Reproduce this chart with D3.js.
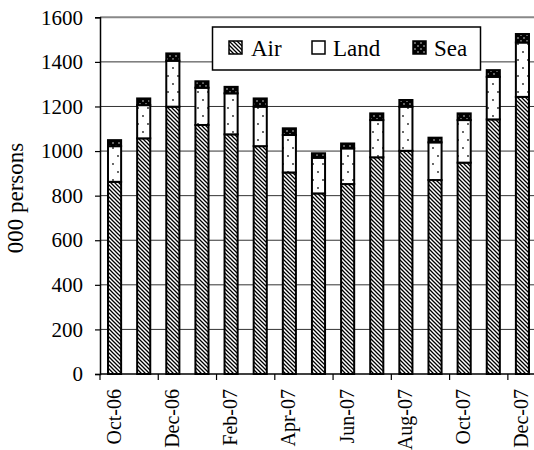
<!DOCTYPE html>
<html>
<head>
<meta charset="utf-8">
<script src="https://cdn.jsdelivr.net/npm/d3@7"></script>
<style>
    body { margin: 0; background: #fff; }
    svg { display: block; font-family: "Liberation Serif", "Times New Roman", serif; }
</style>
</head>
<body>
<div id="chart"></div>
<script>
// Monthly arrivals, 000 persons
const months = ['Oct-06', 'Nov-06', 'Dec-06', 'Jan-07', 'Feb-07', 'Mar-07', 'Apr-07', 'May-07',
    'Jun-07', 'Jul-07', 'Aug-07', 'Sep-07', 'Oct-07', 'Nov-07', 'Dec-07'];
const air = [862, 1057, 1199, 1117, 1075, 1022, 904, 810, 852, 972, 1001, 870, 948, 1142, 1243];
const land = [160, 149, 206, 167, 184, 177, 168, 160, 160, 167, 198, 169, 191, 191, 244];
const sea = [27, 30, 33, 29, 29, 37, 30, 20, 22, 30, 30, 21, 30, 30, 38];
const seriesNames = ['Air', 'Land', 'Sea'];
const yTicks = [0, 200, 400, 600, 800, 1000, 1200, 1400, 1600];

const chartConfig = {
    WIDTH: 534,
    HEIGHT: 450,
    LEFT: 100,
    RIGHT: 537, // plot runs a little past the picture edge
    TOP: 17.3,
    BOTTOM: 374,
};

const svg = d3.select('#chart')
    .append('svg')
    .attr('width', chartConfig.WIDTH)
    .attr('height', chartConfig.HEIGHT);

// fill patterns: hatched air, dotted land, black sea with white dots
const defs = svg.append('defs');

const airPat = defs.append('pattern')
    .attr('id', 'pat-air')
    .attr('patternUnits', 'userSpaceOnUse')
    .attr('width', 4).attr('height', 4);
airPat.append('rect').attr('width', 4).attr('height', 4).attr('fill', '#fff');
airPat.append('path')
    .attr('d', 'M-1,-1 L5,5 M-1,3 L1,5 M3,-1 L5,1')
    .attr('stroke', '#000')
    .attr('stroke-width', 1.3);

const landPat = defs.append('pattern')
    .attr('id', 'pat-land')
    .attr('patternUnits', 'userSpaceOnUse')
    .attr('width', 10).attr('height', 16);
landPat.append('rect').attr('width', 10).attr('height', 16).attr('fill', '#fff');
landPat.append('circle').attr('cx', 3).attr('cy', 4).attr('r', 0.9).attr('fill', '#222');
landPat.append('circle').attr('cx', 8).attr('cy', 12).attr('r', 0.9).attr('fill', '#222');

const seaPat = defs.append('pattern')
    .attr('id', 'pat-sea')
    .attr('patternUnits', 'userSpaceOnUse')
    .attr('width', 6).attr('height', 6);
seaPat.append('rect').attr('width', 6).attr('height', 6).attr('fill', '#000');
seaPat.append('circle').attr('cx', 2).attr('cy', 2).attr('r', 0.8).attr('fill', '#ddd');
seaPat.append('circle').attr('cx', 5).attr('cy', 5).attr('r', 0.8).attr('fill', '#ddd');

const fills = {Air: 'url(#pat-air)', Land: '#fff', Sea: 'url(#pat-sea)'};

// scales
const x = d3.scaleBand()
    .domain(months)
    .range([chartConfig.LEFT, chartConfig.RIGHT])
    .paddingInner(0.55)
    .paddingOuter(0.275);

const y = d3.scaleLinear()
    .domain([0, 1600])
    .range([chartConfig.BOTTOM, chartConfig.TOP]);

// gridlines
svg.append('g')
    .selectAll('line')
    .data(yTicks.filter(d => d > 0))
    .join('line')
    .attr('x1', chartConfig.LEFT)
    .attr('x2', chartConfig.RIGHT)
    .attr('y1', d => y(d))
    .attr('y2', d => y(d))
    .attr('stroke', d => d === 1600 ? '#888' : '#333')
    .attr('stroke-width', d => d === 1600 ? 2 : 1);

// stacked bars
const rows = months.map((m, i) => ({month: m, Air: air[i], Land: land[i], Sea: sea[i]}));
const stacked = d3.stack().keys(seriesNames)(rows);

svg.append('g')
    .selectAll('g')
    .data(stacked)
    .join('g')
    .attr('fill', d => d.key === 'Land' ? 'url(#pat-land)' : fills[d.key])
    .selectAll('rect')
    .data(d => d)
    .join('rect')
    .attr('x', d => x(d.data.month))
    .attr('width', x.bandwidth())
    .attr('y', d => y(d[1]))
    .attr('height', d => y(d[0]) - y(d[1]))
    .attr('stroke', '#000')
    .attr('stroke-width', 2);

// y axis
const yAxis = svg.append('g')
    .attr('transform', `translate(${chartConfig.LEFT},0)`)
    .call(d3.axisLeft(y).tickValues(yTicks).tickFormat(d3.format('d')).tickSize(5).tickPadding(12));
yAxis.select('.domain').attr('stroke', '#000').attr('stroke-width', 1.5);
yAxis.selectAll('.tick line').attr('stroke', '#000').attr('stroke-width', 1.2);
yAxis.selectAll('.tick text')
    .attr('fill', '#000')
    .style('font-size', '21px')
    .style('font-family', '"Liberation Serif", serif');

// x axis: ticks between every second month
const xAxisG = svg.append('g');
xAxisG.append('line')
    .attr('x1', chartConfig.LEFT)
    .attr('x2', chartConfig.RIGHT)
    .attr('y1', chartConfig.BOTTOM)
    .attr('y2', chartConfig.BOTTOM)
    .attr('stroke', '#000')
    .attr('stroke-width', 1.5);

const labelled = months.filter((m, i) => i % 2 === 0);

xAxisG.selectAll('.xtick')
    .data(labelled)
    .join('line')
    .attr('class', 'xtick')
    .attr('x1', d => x(d) - x.step() * x.paddingInner() / 2)
    .attr('x2', d => x(d) - x.step() * x.paddingInner() / 2)
    .attr('y1', chartConfig.BOTTOM)
    .attr('y2', chartConfig.BOTTOM + 6)
    .attr('stroke', '#000')
    .attr('stroke-width', 1.2);

xAxisG.selectAll('.xlabel')
    .data(labelled)
    .join('text')
    .attr('class', 'xlabel')
    .attr('transform', d => `translate(${x(d) + x.bandwidth() / 2 - 1},389) rotate(-90)`)
    .attr('text-anchor', 'end')
    .attr('dy', '0.35em')
    .style('font-size', '20px')
    .text(d => d);

// y title
svg.append('text')
    .attr('transform', 'translate(23,198) rotate(-90)')
    .attr('text-anchor', 'middle')
    .style('font-size', '23px')
    .text('000 persons');

// legend
const legend = svg.append('g');
legend.append('rect')
    .attr('x', 212.5)
    .attr('y', 27)
    .attr('width', 268)
    .attr('height', 43)
    .attr('fill', '#fff')
    .attr('stroke', '#000')
    .attr('stroke-width', 1.5);

const legendX = [229, 312, 413];
const items = legend.selectAll('.item')
    .data(seriesNames)
    .join('g')
    .attr('class', 'item')
    .attr('transform', (d, i) => `translate(${legendX[i]},41)`);

items.append('rect')
    .attr('width', 13)
    .attr('height', 13)
    .attr('fill', d => fills[d])
    .attr('stroke', '#000')
    .attr('stroke-width', 1.5);

items.append('text')
    .attr('x', d => d === 'Air' ? 22 : 21)
    .attr('y', 15)
    .style('font-size', '23px')
    .text(d => d);
</script>
</body>
</html>
